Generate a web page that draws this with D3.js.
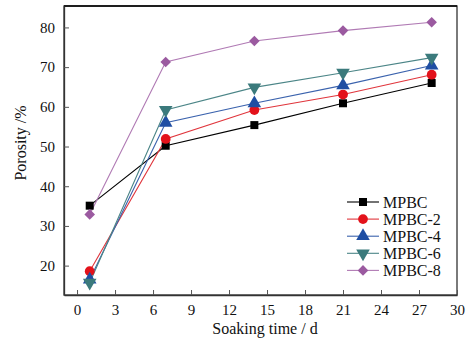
<!DOCTYPE html>
<html>
<head>
<meta charset="utf-8">
<script src="https://cdn.jsdelivr.net/npm/d3@7"></script>
<style>
  html, body { margin: 0; padding: 0; background: #fff; }
  svg { display: block; font-family: "Liberation Serif", "DejaVu Serif", serif; }
</style>
</head>
<body>
<div id="chart"></div>
<script>
const days = [1, 7, 14, 21, 28];
const mpbc = [35.1, 50.2, 55.4, 60.9, 66.0];
const mpbc2 = [18.6, 51.9, 59.2, 63.1, 68.1];
const mpbc4 = [16.5, 56.0, 60.9, 65.4, 70.4];
const mpbc6 = [15.7, 59.2, 64.9, 68.6, 72.4];
const mpbc8 = [32.9, 71.3, 76.6, 79.2, 81.3];
const seriesNames = ['MPBC', 'MPBC-2', 'MPBC-4', 'MPBC-6', 'MPBC-8'];
const xTicks = [0, 3, 6, 9, 12, 15, 18, 21, 24, 27, 30];
const yTicks = [20, 30, 40, 50, 60, 70, 80];

const series = [
  { name: seriesNames[0], values: mpbc, color: '#000000', line: '#000000', symbol: d3.symbolSquare, size: 64, rot: 0 },
  { name: seriesNames[1], values: mpbc2, color: '#e3121b', line: '#e0353c', symbol: d3.symbolCircle, size: 75, rot: 0 },
  { name: seriesNames[2], values: mpbc4, color: '#1f4ea3', line: '#3a62ad', symbol: d3.symbolTriangle, size: 80, rot: 0 },
  { name: seriesNames[3], values: mpbc6, color: '#3b7a7c', line: '#4b8587', symbol: d3.symbolTriangle, size: 80, rot: 180 },
  { name: seriesNames[4], values: mpbc8, color: '#9b5aa0', line: '#b07ab4', symbol: d3.symbolSquare, size: 56, rot: 45 }
];

const width = 476, height = 351;
const margin = { top: 6, right: 19, bottom: 56, left: 64 };
const innerW = width - margin.left - margin.right;
const innerH = height - margin.top - margin.bottom;

const svg = d3.select('#chart').append('svg').attr('width', width).attr('height', height);
const g = svg.append('g').attr('transform', `translate(${margin.left},${margin.top})`);

const x = d3.scaleLinear().domain([-1.03, 30]).range([0, innerW]);
const y = d3.scaleLinear().domain([12.6, 85.4]).range([innerH, 0]);

// frame
g.append('rect').attr('width', innerW).attr('height', innerH)
  .attr('fill', 'none').attr('stroke', '#333').attr('stroke-width', 1.3);
g.append('line').attr('x1', 0).attr('x2', innerW).attr('y1', 0).attr('y2', 0)
  .attr('stroke', '#000').attr('stroke-width', 1.6);

const xAxis = g.append('g').attr('transform', `translate(0,${innerH})`)
  .call(d3.axisBottom(x).tickValues(xTicks).tickSizeInner(-5).tickSizeOuter(0).tickPadding(9));
const yAxis = g.append('g')
  .call(d3.axisLeft(y).tickValues(yTicks).tickSizeInner(-5).tickSizeOuter(0).tickPadding(9));
[xAxis, yAxis].forEach((ax) => {
  ax.select('.domain').attr('stroke', '#333').attr('stroke-width', 1.3);
  ax.selectAll('.tick line').attr('stroke', '#555');
  ax.selectAll('.tick text').attr('fill', '#111').style('font-size', '15px')
    .style('font-family', '"Liberation Serif", serif');
});

svg.append('text').attr('x', 265).attr('y', 334)
  .attr('text-anchor', 'middle').attr('fill', '#111').style('font-size', '16px')
  .text('Soaking time / d');
svg.append('text').attr('transform', 'translate(26,143) rotate(-90)')
  .attr('text-anchor', 'middle').attr('fill', '#111').style('font-size', '16px')
  .text('Porosity /%');

const line = d3.line().x((d) => x(d[0])).y((d) => y(d[1]));

series.forEach((s) => {
  const pts = days.map((d, i) => [d, s.values[i]]);
  g.append('path').datum(pts).attr('d', line)
    .attr('fill', 'none').attr('stroke', s.line).attr('stroke-width', 1.1);
});
series.forEach((s) => {
  const pts = days.map((d, i) => [d, s.values[i]]);
  g.selectAll(null).data(pts).join('path')
    .attr('transform', (d) => `translate(${x(d[0])},${y(d[1])}) rotate(${s.rot})`)
    .attr('d', d3.symbol().type(s.symbol).size(s.size))
    .attr('fill', s.color);
});

// legend
const legend = svg.append('g').attr('transform', 'translate(347,202)');
series.forEach((s, i) => {
  const row = legend.append('g').attr('transform', `translate(0,${i * 17.1})`);
  row.append('line').attr('x1', 0).attr('x2', 32).attr('y1', 0).attr('y2', 0)
    .attr('stroke', s.line).attr('stroke-width', 1.1);
  row.append('path').attr('transform', `translate(16,0) rotate(${s.rot})`)
    .attr('d', d3.symbol().type(s.symbol).size(s.size)).attr('fill', s.color);
  row.append('text').attr('x', 36).attr('y', 5.5).attr('fill', '#111')
    .style('font-size', '16px').text(s.name);
});
</script>
</body>
</html>
